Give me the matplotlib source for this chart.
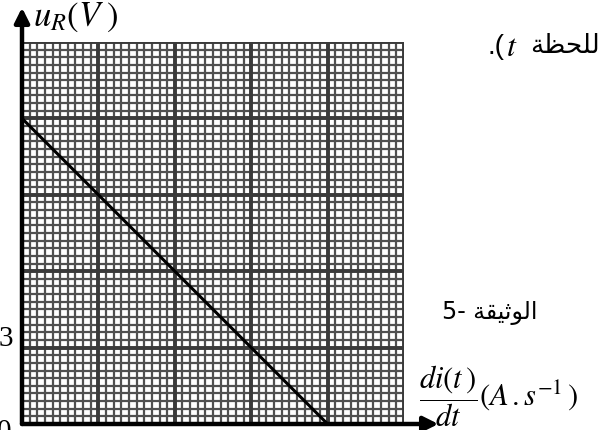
import numpy as np
import matplotlib.pyplot as plt

plt.rcParams["mathtext.fontset"] = "stix"

# graph paper: 5 major squares each way, 10 small squares per major
n_major = 5
n_minor = 10
u_per_major = 3          # volts per major square

# straight line u_R = f(di/dt), in major squares along x
didt = [0, 4]
u_R = [12, 0]

# Arabic words written in presentation forms, visual order
word_instant = "\uFE94\uFEC8\uFEA4\uFEE0\uFEDF"                  # للحظة
word_doc = "\uFE94\uFED8\uFEF4\uFE9B\uFEEE\uFEDF\uFE8D"           # الوثيقة

fig = plt.figure(figsize=(6, 4.3), dpi=100)
ax = fig.add_axes([22 / 600, 6 / 430, 382 / 600, 382 / 430])

xmax = n_major
ymax = n_major * u_per_major
ax.set_xlim(0, xmax)
ax.set_ylim(0, ymax)

# minor grid
for xv in np.linspace(0, xmax, n_major * n_minor + 1):
    ax.axvline(xv, color="#505050", lw=1.6, zorder=1)
for yv in np.linspace(0, ymax, n_major * n_minor + 1):
    ax.axhline(yv, color="#505050", lw=1.6, zorder=1)
# major grid
for xv in np.arange(0, xmax + 1, 1):
    ax.axvline(xv, color="#3a3a3a", lw=2.8, zorder=2)
for yv in np.arange(0, ymax + 1, u_per_major):
    ax.axhline(yv, color="#3a3a3a", lw=2.8, zorder=2)

for s in ax.spines.values():
    s.set_visible(False)
ax.set_xticks([])
ax.set_yticks([])

ax.plot(didt, u_R, color="black", lw=2.2, zorder=3)

# axes with arrows
ax.annotate("", xy=(0, 16.35), xytext=(0, 0),
            arrowprops=dict(arrowstyle="-|>", color="black", lw=3.2,
                            mutation_scale=22, shrinkA=0, shrinkB=0),
            annotation_clip=False, zorder=5)
ax.annotate("", xy=(5.45, 0), xytext=(0, 0),
            arrowprops=dict(arrowstyle="-|>", color="black", lw=3.2,
                            mutation_scale=22, shrinkA=0, shrinkB=0),
            annotation_clip=False, zorder=5)

serif = "Liberation Serif"
ax.text(-0.21, 3.35, "3", fontsize=21, family=serif, ha="center", va="center")
ax.text(-0.23, -0.3, "0", fontsize=21, family=serif, ha="center", va="center")

ax.text(0.15, 16.0, r"$u_R(V\;)$", fontsize=25, ha="left", va="center")

fig.text(600 / 600, 1 - 46 / 430, word_instant, fontsize=19, family="DejaVu Sans",
         ha="right", va="center")
fig.text(512 / 600, 1 - 48 / 430, r"$t$", fontsize=23, ha="center", va="center")
fig.text(505 / 600, 1 - 47 / 430, ".(", fontsize=20, family="Liberation Sans",
         ha="right", va="center")

fig.text(537 / 600, 1 - 313 / 430, "5- " + word_doc, fontsize=17,
         family="DejaVu Sans", ha="right", va="center")

fig.text(419 / 600, 1 - 396 / 430, r"$\dfrac{di(t\,)}{dt}(A\,.s^{-1}\,)$",
         fontsize=22, ha="left", va="center")

fig.savefig("out.png", dpi=100)
